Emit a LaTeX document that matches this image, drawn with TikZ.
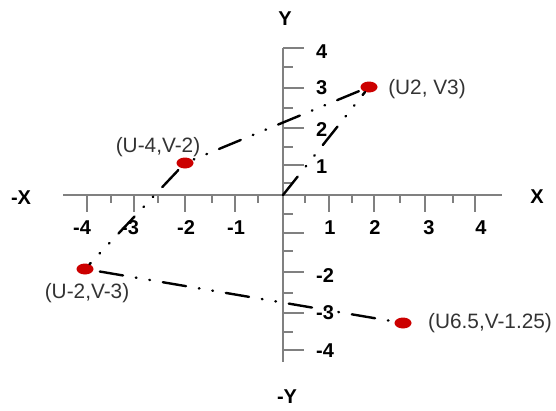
\documentclass[tikz,border=0pt]{standalone}
\usepackage{fontspec}
\setmainfont{Liberation Sans}
\usetikzlibrary{shapes.geometric}
\definecolor{axisgray}{HTML}{808080}
\definecolor{ptred}{HTML}{CC0000}
\definecolor{lblgray}{HTML}{333333}
\tikzset{
  axisline/.style={draw=axisgray, line width=1.6pt},
  tickline/.style={draw=axisgray, line width=1.4pt},
  ptmark/.style={ellipse, fill=ptred, minimum width=17pt, minimum height=11pt, inner sep=0pt},
  ptlabel/.style={font=\fontsize{20.8}{24}\selectfont, text=lblgray, inner sep=0pt},
  numlabel/.style={font=\fontsize{20}{24}\selectfont\bfseries, text=black, inner sep=0pt},
  ddline/.style={draw=black, line width=2.4pt, line cap=round,
    dash pattern=on 23.5pt off 13pt on 0.7pt off 13pt on 0.7pt off 13pt}
}
\begin{document}
\begin{tikzpicture}[x=1pt, y=-1pt]
\useasboundingbox (0,0) rectangle (556,410);
% axes
\coordinate (xl) at (63,195);
\coordinate (xr) at (502,195);
\coordinate (yt) at (283,48);
\coordinate (yb) at (283,362);
\coordinate (o) at (283,195);
\draw[axisline] (xl) -- (xr);
\draw[axisline] (yt) -- (yb);
% x ticks
\foreach \x in {87,134,185,235,329,374,425,475} \draw[tickline] (\x,195) -- (\x,212);
\foreach \x in {111,158,212,258,305,352,400,453} \draw[tickline] (\x,195) -- (\x,203);
% y ticks
\foreach \y in {48,88,128,165,233,272,313,350} \draw[tickline] (283,\y) -- (304,\y);
\foreach \y in {67,108,147,183,214,251,293,332} \draw[tickline] (283,\y) -- (293,\y);
% axis names
\node[numlabel] (lx) at (537,197) {X};
\node[numlabel] (lmx) at (21,198) {-X};
\node[numlabel] (ly) at (285,19) {Y};
\node[numlabel] (lmy) at (287,397) {-Y};
% x numbers
\node[numlabel] (xn4) at (82,228) {-4};
\node[numlabel] (xn3) at (130,228) {-3};
\node[numlabel] (xn2) at (186,228) {-2};
\node[numlabel] (xn1) at (236,228) {-1};
\node[numlabel] (xp1) at (330,228) {1};
\node[numlabel] (xp2) at (375,228) {2};
\node[numlabel] (xp3) at (429,228) {3};
\node[numlabel] (xp4) at (481,228) {4};
% y numbers
\node[numlabel, anchor=west] (yp4) at (316,52) {4};
\node[numlabel, anchor=west] (yp3) at (316,88) {3};
\node[numlabel, anchor=west] (yp2) at (316,130) {2};
\node[numlabel, anchor=west] (yp1) at (316,167) {1};
\node[numlabel, anchor=west] (yn2) at (316,276) {-2};
\node[numlabel, anchor=west] (yn3) at (316,313) {-3};
\node[numlabel, anchor=west] (yn4) at (316,351) {-4};
% points
\node[ptmark] (p1) at (369,87) {};
\node[ptmark] (p2) at (185,163) {};
\node[ptmark] (p3) at (85,269) {};
\node[ptmark] (p4) at (403,323) {};
% point labels
\node[ptlabel] (l1) at (427,89) {(U2, V3)};
\node[ptlabel] (l2) at (158,147) {(U-4,V-2)};
\node[ptlabel] (l3) at (87,293) {(U-2,V-3)};
\node[ptlabel] (l4) at (490,323) {(U6.5,V-1.25)};
% connectors
\draw[ddline, shorten <=3pt] (p1) -- (p2);
\draw[ddline] (o) -- (p1);
\draw[ddline, shorten <=3pt] (p2) -- (p3);
\draw[ddline, shorten <=6.5pt] (p3) -- (p4);
\end{tikzpicture}
\end{document}
